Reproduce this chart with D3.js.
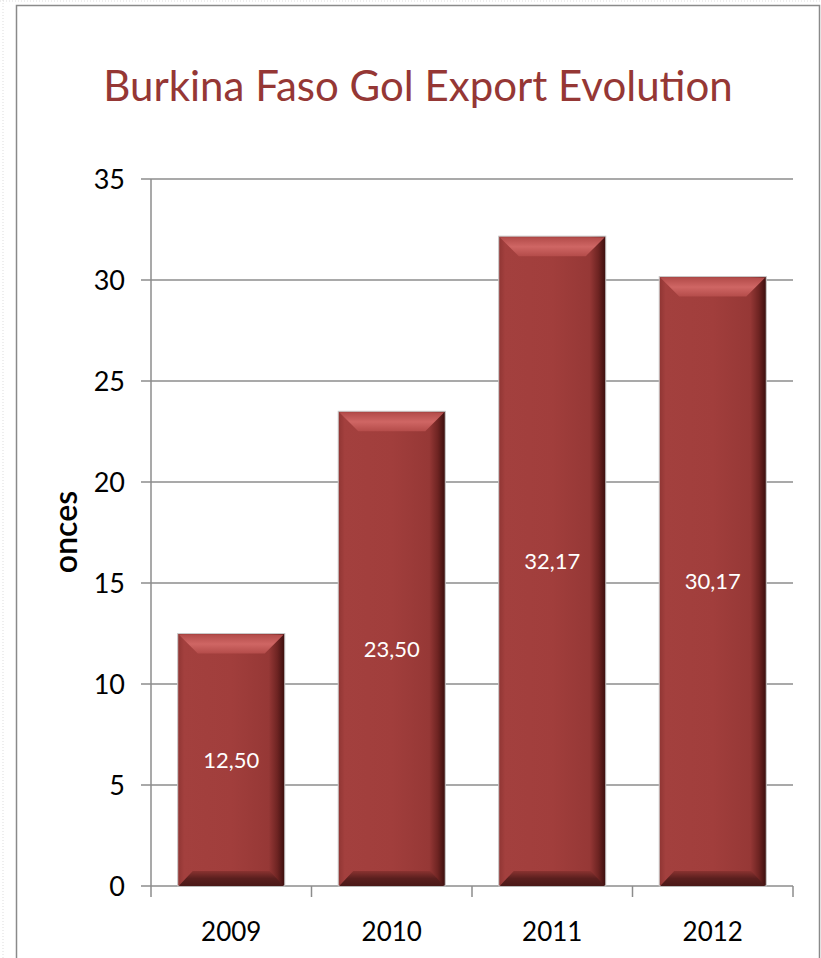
<!DOCTYPE html>
<html><head><meta charset="utf-8">
<script src="https://cdn.jsdelivr.net/npm/d3@7"></script>
<style>body{margin:0;background:#fff}svg{display:block}</style>
</head><body><div id="c"></div>
<script>
const categories = ["2009","2010","2011","2012"];
const values = [12.50, 23.50, 32.17, 30.17];
const labels = ["12,50","23,50","32,17","30,17"];
const yTicks = [0,5,10,15,20,25,30,35];
const title = "Burkina Faso Gol Export Evolution";
const yTitle = "onces";

const W=821,H=958;
const svg=d3.select("#c").append("svg").attr("width",W).attr("height",H);
const defs=svg.append("defs");
svg.append("line").attr("x1",3).attr("x2",3).attr("y1",0).attr("y2",H).attr("stroke","#ddd").attr("stroke-dasharray","1,2");
svg.append("line").attr("x1",0).attr("x2",W).attr("y1",1).attr("y2",1).attr("stroke","#ddd").attr("stroke-dasharray","1,2");
svg.append("rect").attr("x",16.5).attr("y",5.5).attr("width",803).attr("height",H+10).attr("fill","#fff").attr("stroke","#8a8a8a").attr("stroke-width",1.5);

const x0=151,x1=793,yb=886,yt=179;
const x=d3.scaleBand().domain(categories).range([x0,x1]).paddingInner(0.333).paddingOuter(0.1665);
const y=d3.scaleLinear().domain([0,35]).range([yb,yt]);

svg.append("g").selectAll("line").data(yTicks).join("line")
 .attr("x1",141).attr("x2",x1).attr("y1",d=>y(d)).attr("y2",d=>y(d))
 .attr("stroke","#8c8c8c").attr("stroke-width",1.5);
svg.append("line").attr("x1",x0).attr("x2",x0).attr("y1",yt).attr("y2",yb).attr("stroke","#8c8c8c").attr("stroke-width",1.5);
const xt=categories.map((c,i)=>x0+i*(x1-x0)/categories.length).concat([x1]);
svg.append("g").selectAll("line").data(xt).join("line")
 .attr("x1",d=>d).attr("x2",d=>d).attr("y1",yb).attr("y2",yb+11).attr("stroke","#8c8c8c").attr("stroke-width",1.5);

const F="Lato, 'Open Sans', sans-serif";
svg.append("g").selectAll("text").data(yTicks).join("text")
 .attr("x",125).attr("y",d=>y(d)+10).attr("text-anchor","end")
 .attr("font-family",F).attr("font-size",27).attr("fill","#000").text(d=>d);
svg.append("g").selectAll("text").data(categories).join("text")
 .attr("x",d=>x(d)+x.bandwidth()/2).attr("y",941).attr("text-anchor","middle")
 .attr("font-family",F).attr("font-size",26).attr("fill","#000").text(d=>d);

svg.append("text").attr("transform","translate(77,532) rotate(-90)").attr("text-anchor","middle")
 .attr("font-family",F).attr("font-size",32).attr("font-weight",600).attr("fill","#000").text(yTitle);
svg.append("text").attr("x",418).attr("y",101).attr("text-anchor","middle")
 .attr("font-family",F).attr("font-size",42).attr("fill","#953735").text(title);

const gh=defs.append("linearGradient").attr("id","gh").attr("x1",0).attr("x2",1).attr("y1",0).attr("y2",0);
[[0,"#8f3533"],[0.06,"#a3403e"],[0.5,"#a13e3c"],[0.85,"#963836"],[0.93,"#6e2422"],[1,"#3a0e0d"]].forEach(s=>gh.append("stop").attr("offset",s[0]).attr("stop-color",s[1]));
const gt=defs.append("linearGradient").attr("id","gt").attr("x1",0).attr("x2",0).attr("y1",0).attr("y2",1);
[[0,"#b24b49"],[0.5,"#cf6664"],[1,"#b44c4a"]].forEach(s=>gt.append("stop").attr("offset",s[0]).attr("stop-color",s[1]));
const gb=defs.append("linearGradient").attr("id","gb").attr("x1",0).attr("x2",0).attr("y1",0).attr("y2",1);
[[0,"#8a3230"],[0.5,"#5a1f1e"],[1,"#4a1817"]].forEach(s=>gb.append("stop").attr("offset",s[0]).attr("stop-color",s[1]));

const bars=svg.append("g").selectAll("g").data(categories).join("g");
const bw=x.bandwidth(), bev=20;
bars.append("rect").attr("x",c=>x(c)).attr("y",(c,i)=>y(values[i])).attr("width",bw).attr("height",(c,i)=>yb-y(values[i]))
 .attr("fill","url(#gh)").attr("stroke","#c9c9c9").attr("stroke-width",1);
bars.append("path").attr("d",(c,i)=>{const X=x(c),Y=y(values[i]);return `M${X+1},${Y+1}L${X+bw-1},${Y+1}L${X+bw-bev},${Y+bev}L${X+bev},${Y+bev}Z`;})
 .attr("fill","url(#gt)");
bars.append("path").attr("d",(c,i)=>{const X=x(c);const b=15;return `M${X+b},${yb-b}L${X+bw-b},${yb-b}L${X+bw-1},${yb}L${X+1},${yb}Z`;})
 .attr("fill","url(#gb)");
bars.append("text").attr("x",c=>x(c)+bw/2).attr("y",(c,i)=>(y(values[i])+yb)/2+8).attr("text-anchor","middle")
 .attr("font-family",F).attr("font-size",22).attr("fill","#fff").text((c,i)=>labels[i]);
</script></body></html>
